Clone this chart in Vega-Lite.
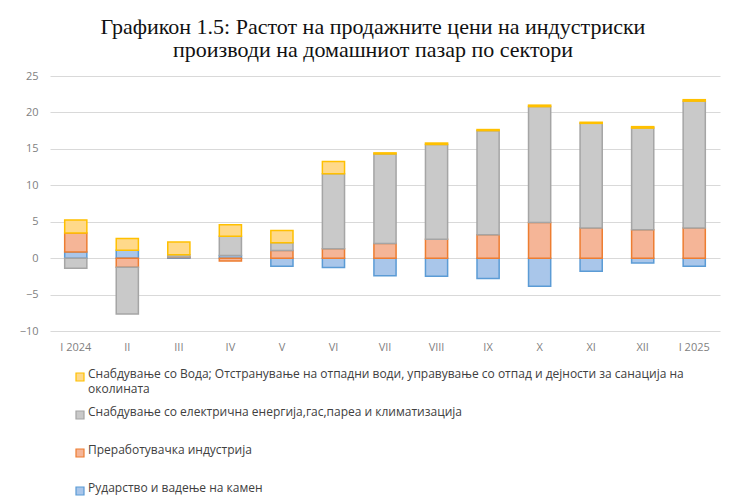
{
  "$schema": "https://vega.github.io/schema/vega-lite/v6.json",
  "autosize": {"type": "none"},
  "width": 670,
  "height": 255,
  "padding": {"left": 50, "top": 76, "right": 14, "bottom": 170},
  "background": "white",
  "title": {
    "text": ["Графикон 1.5: Растот на продажните цени на индустриски", "производи на домашниот пазар по сектори"],
    "font": "Liberation Serif",
    "fontSize": 22,
    "fontWeight": "normal",
    "color": "#111111",
    "anchor": "middle",
    "dx": -12,
    "offset": 8,
    "lineHeight": 23
  },
  "data": {
    "values": [
      {"m": "I 2024", "s": "Рударство и вадење на камен", "k": 1, "v": 0.85},
      {"m": "I 2024", "s": "Преработувачка индустрија", "k": 2, "v": 2.6},
      {"m": "I 2024", "s": "Снабдување со електрична енергија,гас,пареа и климатизација", "k": 3, "v": -1.4},
      {"m": "I 2024", "s": "Снабдување со Вода; Отстранување на отпадни води, управување со отпад и дејности за санација на околината", "k": 4, "v": 1.8},
      {"m": "II", "s": "Рударство и вадење на камен", "k": 1, "v": 1.1},
      {"m": "II", "s": "Преработувачка индустрија", "k": 2, "v": -1.25},
      {"m": "II", "s": "Снабдување со електрична енергија,гас,пареа и климатизација", "k": 3, "v": -6.4},
      {"m": "II", "s": "Снабдување со Вода; Отстранување на отпадни води, управување со отпад и дејности за санација на околината", "k": 4, "v": 1.6},
      {"m": "III", "s": "Рударство и вадење на камен", "k": 1, "v": 0.1},
      {"m": "III", "s": "Преработувачка индустрија", "k": 2, "v": 0.05},
      {"m": "III", "s": "Снабдување со електрична енергија,гас,пареа и климатизација", "k": 3, "v": 0.3},
      {"m": "III", "s": "Снабдување со Вода; Отстранување на отпадни води, управување со отпад и дејности за санација на околината", "k": 4, "v": 1.75},
      {"m": "IV", "s": "Рударство и вадење на камен", "k": 1, "v": 0.35},
      {"m": "IV", "s": "Преработувачка индустрија", "k": 2, "v": -0.4},
      {"m": "IV", "s": "Снабдување со електрична енергија,гас,пареа и климатизација", "k": 3, "v": 2.65},
      {"m": "IV", "s": "Снабдување со Вода; Отстранување на отпадни води, управување со отпад и дејности за санација на околината", "k": 4, "v": 1.6},
      {"m": "V", "s": "Рударство и вадење на камен", "k": 1, "v": -1.1},
      {"m": "V", "s": "Преработувачка индустрија", "k": 2, "v": 1.05},
      {"m": "V", "s": "Снабдување со електрична енергија,гас,пареа и климатизација", "k": 3, "v": 1.05},
      {"m": "V", "s": "Снабдување со Вода; Отстранување на отпадни води, управување со отпад и дејности за санација на околината", "k": 4, "v": 1.7},
      {"m": "VI", "s": "Рударство и вадење на камен", "k": 1, "v": -1.3},
      {"m": "VI", "s": "Преработувачка индустрија", "k": 2, "v": 1.3},
      {"m": "VI", "s": "Снабдување со електрична енергија,гас,пареа и климатизација", "k": 3, "v": 10.3},
      {"m": "VI", "s": "Снабдување со Вода; Отстранување на отпадни води, управување со отпад и дејности за санација на околината", "k": 4, "v": 1.65},
      {"m": "VII", "s": "Рударство и вадење на камен", "k": 1, "v": -2.4},
      {"m": "VII", "s": "Преработувачка индустрија", "k": 2, "v": 2.0},
      {"m": "VII", "s": "Снабдување со електрична енергија,гас,пареа и климатизација", "k": 3, "v": 12.3},
      {"m": "VII", "s": "Снабдување со Вода; Отстранување на отпадни води, управување со отпад и дејности за санација на околината", "k": 4, "v": 0.15},
      {"m": "VIII", "s": "Рударство и вадење на камен", "k": 1, "v": -2.5},
      {"m": "VIII", "s": "Преработувачка индустрија", "k": 2, "v": 2.6},
      {"m": "VIII", "s": "Снабдување со електрична енергија,гас,пареа и климатизација", "k": 3, "v": 13.0},
      {"m": "VIII", "s": "Снабдување со Вода; Отстранување на отпадни води, управување со отпад и дејности за санација на околината", "k": 4, "v": 0.2},
      {"m": "IX", "s": "Рударство и вадење на камен", "k": 1, "v": -2.8},
      {"m": "IX", "s": "Преработувачка индустрија", "k": 2, "v": 3.2},
      {"m": "IX", "s": "Снабдување со електрична енергија,гас,пареа и климатизација", "k": 3, "v": 14.3},
      {"m": "IX", "s": "Снабдување со Вода; Отстранување на отпадни води, управување со отпад и дејности за санација на околината", "k": 4, "v": 0.15},
      {"m": "X", "s": "Рударство и вадење на камен", "k": 1, "v": -3.85},
      {"m": "X", "s": "Преработувачка индустрија", "k": 2, "v": 4.9},
      {"m": "X", "s": "Снабдување со електрична енергија,гас,пареа и климатизација", "k": 3, "v": 15.9},
      {"m": "X", "s": "Снабдување со Вода; Отстранување на отпадни води, управување со отпад и дејности за санација на околината", "k": 4, "v": 0.2},
      {"m": "XI", "s": "Рударство и вадење на камен", "k": 1, "v": -1.8},
      {"m": "XI", "s": "Преработувачка индустрија", "k": 2, "v": 4.15},
      {"m": "XI", "s": "Снабдување со електрична енергија,гас,пареа и климатизација", "k": 3, "v": 14.35},
      {"m": "XI", "s": "Снабдување со Вода; Отстранување на отпадни води, управување со отпад и дејности за санација на околината", "k": 4, "v": 0.15},
      {"m": "XII", "s": "Рударство и вадење на камен", "k": 1, "v": -0.65},
      {"m": "XII", "s": "Преработувачка индустрија", "k": 2, "v": 3.9},
      {"m": "XII", "s": "Снабдување со електрична енергија,гас,пареа и климатизација", "k": 3, "v": 13.95},
      {"m": "XII", "s": "Снабдување со Вода; Отстранување на отпадни води, управување со отпад и дејности за санација на околината", "k": 4, "v": 0.2},
      {"m": "I 2025", "s": "Рударство и вадење на камен", "k": 1, "v": -1.1},
      {"m": "I 2025", "s": "Преработувачка индустрија", "k": 2, "v": 4.15},
      {"m": "I 2025", "s": "Снабдување со електрична енергија,гас,пареа и климатизација", "k": 3, "v": 17.4},
      {"m": "I 2025", "s": "Снабдување со Вода; Отстранување на отпадни води, управување со отпад и дејности за санација на околината", "k": 4, "v": 0.2}
    ]
  },
  "mark": {"type": "bar", "strokeWidth": 1.5, "fillOpacity": 1},
  "encoding": {
    "x": {
      "field": "m",
      "type": "ordinal",
      "sort": ["I 2024", "II", "III", "IV", "V", "VI", "VII", "VIII", "IX", "X", "XI", "XII", "I 2025"],
      "scale": {"paddingInner": 0.57, "paddingOuter": 0.285},
      "axis": {
        "title": null,
        "labelAngle": 0,
        "ticks": false,
        "domain": false,
        "labelPadding": 10,
        "labelFont": "Open Sans",
        "labelFontSize": 11,
        "labelColor": "#7f7f7f"
      }
    },
    "y": {
      "field": "v",
      "type": "quantitative",
      "stack": "zero",
      "scale": {"domain": [-10, 25], "nice": false},
      "axis": {
        "title": null,
        "values": [-10, -5, 0, 5, 10, 15, 20, 25],
        "ticks": false,
        "domain": false,
        "labelPadding": 12,
        "labelFont": "Open Sans",
        "labelFontSize": 11,
        "labelColor": "#7f7f7f",
        "gridColor": "#d9d9d9",
        "gridWidth": 1.2
      }
    },
    "order": {"field": "k", "type": "quantitative", "sort": "ascending"},
    "fill": {
      "field": "s",
      "type": "nominal",
      "scale": {
        "domain": [
          "Снабдување со Вода; Отстранување на отпадни води, управување со отпад и дејности за санација на околината",
          "Снабдување со електрична енергија,гас,пареа и климатизација",
          "Преработувачка индустрија",
          "Рударство и вадење на камен"
        ],
        "range": ["#ffd98a", "#c9c9c9", "#f5b597", "#a9c6ea"]
      },
      "legend": {
        "title": null,
        "orient": "none",
        "legendX": 24,
        "legendY": 295,
        "direction": "vertical",
        "symbolType": "square",
        "symbolSize": 64,
        "symbolStrokeWidth": 1.2,
        "labelFont": "Open Sans",
        "labelFontSize": 12,
        "labelColor": "#404040",
        "labelOffset": 2,
        "labelLimit": 700,
        "labelBaseline": "top",
        "rowPadding": 11,
        "padding": 0,
        "labelExpr": "indexof(datum.label, ' околината') > 0 ? [replace(datum.label, ' околината', ''), 'околината'] : [datum.label, '']",
        "encode": {"labels": {"update": {"dy": {"value": -8}, "lineHeight": {"value": 15}}}}
      }
    },
    "stroke": {
      "field": "s",
      "type": "nominal",
      "scale": {
        "domain": [
          "Снабдување со Вода; Отстранување на отпадни води, управување со отпад и дејности за санација на околината",
          "Снабдување со електрична енергија,гас,пареа и климатизација",
          "Преработувачка индустрија",
          "Рударство и вадење на камен"
        ],
        "range": ["#ffc000", "#a5a5a5", "#ed7d31", "#5b9bd5"]
      },
      "legend": null
    }
  },
  "config": {
    "view": {"stroke": null}
  }
}
